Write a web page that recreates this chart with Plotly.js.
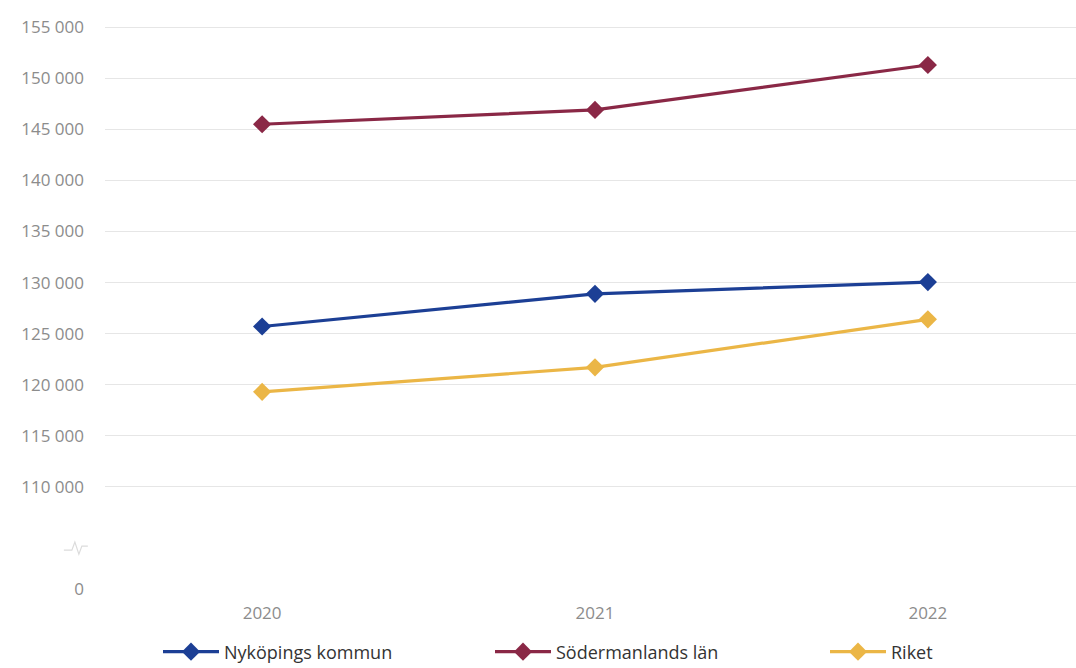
<!DOCTYPE html>
<html>
<head>
<meta charset="utf-8">
<script src="https://cdn.plot.ly/plotly-3.0.1.min.js"></script>
<style>html,body{margin:0;padding:0;background:#fff;}#chart{width:1076px;height:668px;}</style>
</head>
<body>
<div id="chart"></div>
<script>
// Data
var years = ['2020', '2021', '2022'];
var nykoping = [125700, 128900, 130050];
var sodermanland = [145500, 146900, 151300];
var riket = [119300, 121700, 126400];
var seriesNames = ['Nyköpings kommun', 'Södermanlands län', 'Riket'];
var seriesColors = ['#1c3f95', '#8a2846', '#ebb646'];
// Y ticks (broken axis: bottom tick labelled 0)
var yTickVals = [100000, 110000, 115000, 120000, 125000, 130000, 135000, 140000, 145000, 150000, 155000];
var yTickText = ['0', '110 000', '115 000', '120 000', '125 000', '130 000', '135 000', '140 000', '145 000', '150 000', '155 000'];

var xIdx = years.map(function(_, i){ return i; });
var allSeries = [nykoping, sodermanland, riket];
var legendIds = ['legend', 'legend2', 'legend3'];
var traces = allSeries.map(function(vals, i){
  return {
    x: xIdx, y: vals, name: seriesNames[i], type: 'scatter', mode: 'lines+markers',
    line: {color: seriesColors[i], width: 3.2},
    marker: {symbol: 'diamond', size: 14, color: seriesColors[i]},
    legend: legendIds[i],
    hoverinfo: 'y'
  };
});

function legendAt(px) {
  return {
    orientation: 'h', xref: 'container', yref: 'container',
    x: px / 1076, xanchor: 'left', y: 16 / 668, yanchor: 'middle',
    font: {size: 18, color: '#333'}, itemwidth: 56, bgcolor: 'rgba(0,0,0,0)'
  };
}

var layout = {
  width: 1076, height: 668,
  margin: {l: 105, r: 0, t: 17, b: 79},
  paper_bgcolor: '#fff', plot_bgcolor: '#fff',
  font: {family: 'Open Sans, sans-serif', color: '#333'},
  showlegend: true,
  legend: legendAt(158),
  legend2: legendAt(490),
  legend3: legendAt(825),
  xaxis: {
    range: [-0.472, 2.445], tickvals: xIdx, ticktext: years,
    showgrid: false, zeroline: false, showline: false,
    ticks: '', ticklabelstandoff: 12,
    tickfont: {size: 17, color: '#8c8c8c'}, fixedrange: true
  },
  yaxis: {
    range: [100000, 156000], tickvals: yTickVals, ticktext: yTickText,
    showgrid: true, gridcolor: '#e6e6e6', gridwidth: 1, zeroline: false, showline: false,
    ticks: '', ticklabelstandoff: 20,
    tickfont: {size: 17, color: '#8c8c8c'}, fixedrange: true
  },
  shapes: [{
    type: 'path', xref: 'paper', yref: 'y',
    xsizemode: 'pixel', ysizemode: 'pixel', xanchor: -0.03, yanchor: 104000,
    path: 'M -12,-2 L -4,-2 L -1,6 L 3,-6 L 6,2 L 12,2',
    line: {color: '#dcdcdc', width: 1.2}
  }]
};

Plotly.newPlot('chart', traces, layout, {displayModeBar: false, staticPlot: true});
</script>
</body>
</html>
